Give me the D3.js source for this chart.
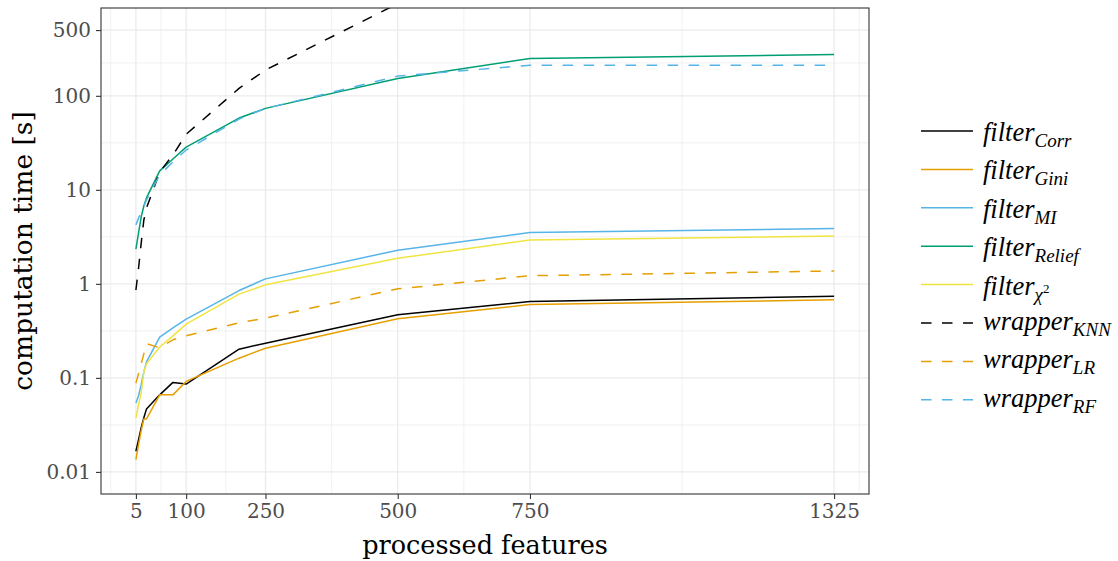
<!DOCTYPE html>
<html>
<head>
<meta charset="utf-8">
<script src="https://cdn.jsdelivr.net/npm/d3@7"></script>
<style>
  html, body { margin: 0; padding: 0; background: #fff; }
  svg { display: block; }
</style>
</head>
<body>
<svg id="chart" width="1118" height="561"></svg>
<script>
// Number of processed features at which each method was timed
const features = [5, 10, 15, 20, 25, 50, 75, 100, 200, 250, 500, 750, 1325];

// Computation time in seconds per method
const filterCorr   = [0.0166, 0.022, 0.0296, 0.0377, 0.0467, 0.066, 0.0895, 0.086, 0.202, 0.234, 0.469, 0.649, 0.74];
const filterGini   = [0.0135, 0.0195, 0.0275, 0.0366, 0.0366, 0.066, 0.066, 0.0917, 0.162, 0.207, 0.425, 0.603, 0.676];
const filterMI     = [0.054, 0.0646, 0.0846, 0.116, 0.148, 0.272, 0.341, 0.422, 0.849, 1.13, 2.28, 3.51, 3.87];
const filterRelief = [2.34, 3.48, 5.15, 6.73, 8.2, 15.9, 21.3, 28.5, 58, 73.5, 153, 250, 275];
const filterChi2   = [0.0375, 0.0519, 0.0695, 0.116, 0.141, 0.213, 0.28, 0.373, 0.778, 0.976, 1.87, 2.93, 3.23];
const wrapperKNN   = [0.86, 1.47, 2.71, 4.78, 6.4, 15.5, 23.5, 39, 120, 188, 955, null, null];
const wrapperLR    = [0.088, 0.111, 0.141, 0.18, 0.231, 0.209, 0.254, 0.28, 0.385, 0.432, 0.885, 1.22, 1.37];
const wrapperRF    = [4.24, 5.0, 5.8, 6.7, 7.8, 14.4, 19.8, 26.5, 56.6, 73.5, 162, 212, 212];

// Legend names: [base, subscript]
const seriesNames = [
  ["filter", "Corr"], ["filter", "Gini"], ["filter", "MI"], ["filter", "Relief"],
  ["filter", "χ2"], ["wrapper", "KNN"], ["wrapper", "LR"], ["wrapper", "RF"]
];
const seriesValues = [filterCorr, filterGini, filterMI, filterRelief, filterChi2, wrapperKNN, wrapperLR, wrapperRF];
const seriesColors = ["#000000", "#E69F00", "#56B4E9", "#009E73", "#F0E442", "#000000", "#E69F00", "#56B4E9"];
const seriesDashed = [false, false, false, false, false, true, true, true];

// Axis ticks
const xTicks = [5, 100, 250, 500, 750, 1325];
const yTicks = [0.01, 0.1, 1, 10, 100, 500];
const yTickLabels = ["0.01", "0.1", "1", "10", "100", "500"];
const xTitle = "processed features";
const yTitle = "computation time [s]";

const svg = d3.select("#chart");
const panel = { left: 101, right: 869, top: 8, bottom: 494 };

// 5% expansion on both axes (y in log space)
const xLim = [5, 1325];
const xPad = (xLim[1] - xLim[0]) * 0.05;
const x = d3.scaleLinear()
  .domain([xLim[0] - xPad, xLim[1] + xPad])
  .range([panel.left, panel.right]);

const yLim = [0.01, 500];
const lyPad = (Math.log10(yLim[1]) - Math.log10(yLim[0])) * 0.05;
const y = d3.scaleLog()
  .domain([Math.pow(10, Math.log10(yLim[0]) - lyPad), Math.pow(10, Math.log10(yLim[1]) + lyPad)])
  .range([panel.bottom, panel.top]);

// Minor breaks halfway between majors (in transformed space)
function minorBreaks(major, toT, fromT, lo, hi) {
  const t = major.map(toT);
  const d0 = t[1] - t[0];
  const ext = [t[0] - d0, ...t, t[t.length - 1] + d0];
  const out = [];
  for (let i = 0; i < ext.length - 1; i++) {
    const m = (ext[i] + ext[i + 1]) / 2;
    if (m >= toT(lo) && m <= toT(hi)) out.push(fromT(m));
  }
  return out;
}
const xMinor = minorBreaks(xTicks, v => v, v => v, x.domain()[0], x.domain()[1]);
const yMinor = minorBreaks(yTicks, v => Math.log10(v), v => Math.pow(10, v), y.domain()[0], y.domain()[1]);

// Panel background and grid
svg.append("rect")
  .attr("x", panel.left).attr("y", panel.top)
  .attr("width", panel.right - panel.left).attr("height", panel.bottom - panel.top)
  .attr("fill", "#ffffff");

const grid = svg.append("g");
grid.selectAll("line.xminor").data(xMinor).join("line")
  .attr("x1", d => x(d)).attr("x2", d => x(d))
  .attr("y1", panel.top).attr("y2", panel.bottom)
  .attr("stroke", "#ebebeb").attr("stroke-width", 0.7);
grid.selectAll("line.yminor").data(yMinor).join("line")
  .attr("x1", panel.left).attr("x2", panel.right)
  .attr("y1", d => y(d)).attr("y2", d => y(d))
  .attr("stroke", "#ebebeb").attr("stroke-width", 0.7);
grid.selectAll("line.xmajor").data(xTicks).join("line")
  .attr("x1", d => x(d)).attr("x2", d => x(d))
  .attr("y1", panel.top).attr("y2", panel.bottom)
  .attr("stroke", "#ebebeb").attr("stroke-width", 1.3);
grid.selectAll("line.ymajor").data(yTicks).join("line")
  .attr("x1", panel.left).attr("x2", panel.right)
  .attr("y1", d => y(d)).attr("y2", d => y(d))
  .attr("stroke", "#ebebeb").attr("stroke-width", 1.3);

// Clip region for the series
svg.append("clipPath").attr("id", "panelClip")
  .append("rect")
  .attr("x", panel.left).attr("y", panel.top)
  .attr("width", panel.right - panel.left).attr("height", panel.bottom - panel.top);

const line = d3.line()
  .defined(d => d[1] != null)
  .x(d => x(d[0]))
  .y(d => y(d[1]));

const linesG = svg.append("g").attr("clip-path", "url(#panelClip)");
seriesValues.forEach((vals, i) => {
  const pts = features.map((f, j) => [f, vals[j]]);
  linesG.append("path")
    .attr("d", line(pts))
    .attr("fill", "none")
    .attr("stroke", seriesColors[i])
    .attr("stroke-width", 1.5)
    .attr("stroke-linejoin", "round")
    .attr("stroke-dasharray", seriesDashed[i] ? "10.5,10.5" : null);
});

// Panel border
svg.append("rect")
  .attr("x", panel.left).attr("y", panel.top)
  .attr("width", panel.right - panel.left).attr("height", panel.bottom - panel.top)
  .attr("fill", "none").attr("stroke", "#333333").attr("stroke-width", 1.1);

// Axes
const tickFont = "'DejaVu Serif', serif";
const xAxis = svg.append("g")
  .attr("transform", `translate(0,${panel.bottom})`)
  .call(d3.axisBottom(x).tickValues(xTicks).tickFormat(d3.format("d")).tickSizeOuter(0).tickSize(5).tickPadding(5));
const yAxis = svg.append("g")
  .attr("transform", `translate(${panel.left},0)`)
  .call(d3.axisLeft(y).tickValues(yTicks).tickFormat((d, i) => yTickLabels[i]).tickSizeOuter(0).tickSize(5).tickPadding(5));
[xAxis, yAxis].forEach(a => {
  a.select(".domain").remove();
  a.selectAll(".tick line").attr("stroke", "#333333").attr("stroke-width", 1.1);
  a.selectAll(".tick text")
    .attr("fill", "#4d4d4d")
    .style("font-family", tickFont)
    .style("font-size", "20px");
});

// Axis titles
svg.append("text")
  .attr("x", (panel.left + panel.right) / 2).attr("y", 554)
  .attr("text-anchor", "middle")
  .style("font-family", tickFont).style("font-size", "25.5px")
  .attr("fill", "#000")
  .text(xTitle);
svg.append("text")
  .attr("transform", `translate(32,${(panel.top + panel.bottom) / 2}) rotate(-90)`)
  .attr("text-anchor", "middle")
  .style("font-family", tickFont).style("font-size", "26.5px")
  .attr("fill", "#000")
  .text(yTitle);

// Legend
const legend = svg.append("g");
const legFont = "'Liberation Serif', serif";
seriesNames.forEach((nm, i) => {
  const ky = 131 + i * 38.4;
  legend.append("line")
    .attr("x1", 921).attr("x2", 973)
    .attr("y1", ky).attr("y2", ky)
    .attr("stroke", seriesColors[i]).attr("stroke-width", 1.5)
    .attr("stroke-dasharray", seriesDashed[i] ? "10.5,10.5" : null);
  const base = nm[0] === "filter" ? ky + 10 : ky + 7;
  const t = legend.append("text")
    .attr("x", 983).attr("y", base)
    .style("font-family", legFont).style("font-style", "italic")
    .attr("fill", "#000");
  t.append("tspan").style("font-size", "26.5px").text(nm[0]);
  if (nm[1] === "χ2") {
    t.append("tspan").style("font-size", "19px").attr("dy", 6).text("χ");
    t.append("tspan").style("font-size", "13px").style("font-style", "normal").attr("dy", -8).text("2");
  } else {
    t.append("tspan").style("font-size", "19px").attr("dy", 6).text(nm[1]);
  }
});
</script>
</body>
</html>
